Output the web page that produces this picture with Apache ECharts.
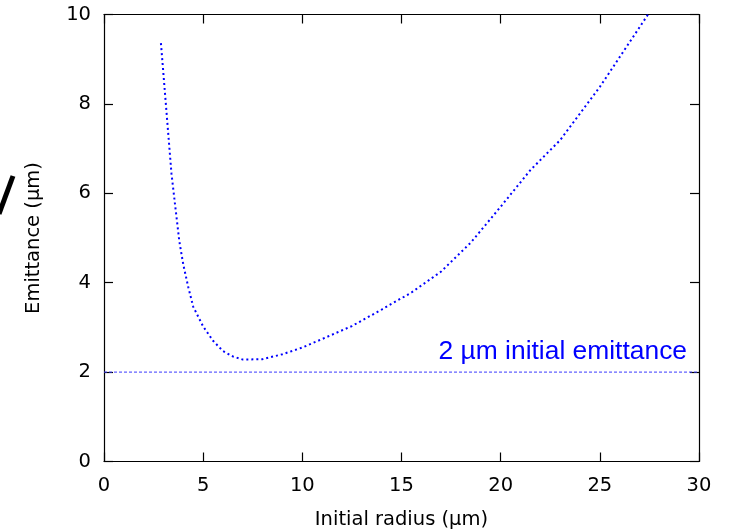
<!DOCTYPE html>
<html>
<head>
<meta charset="utf-8">
<script src="https://cdn.jsdelivr.net/npm/echarts@6/dist/echarts.min.js"></script>
<style>
  html, body { margin: 0; padding: 0; background: #fff; }
  #chart { width: 734px; height: 532px; }
</style>
</head>
<body>
<div id="chart"></div>
<script>
// Emittance growth vs. initial beam radius
const radius = [2.87, 3.0, 3.2, 3.4, 3.6, 3.8, 4.0, 4.25, 4.5, 5.0, 5.5, 6.0, 6.5, 7.0, 8.0, 9.0, 10.0, 11.0, 12.5, 14.0, 15.5, 17.0, 18.5, 20.0, 21.5, 23.0, 25.0, 27.43];
const emittance = [9.36, 8.65, 7.55, 6.45, 5.68, 4.92, 4.40, 3.90, 3.46, 3.02, 2.70, 2.47, 2.35, 2.28, 2.29, 2.40, 2.55, 2.74, 3.03, 3.40, 3.78, 4.25, 4.90, 5.70, 6.52, 7.19, 8.38, 10.0];
const initialEmittance = 2;
const xTicks = [0, 5, 10, 15, 20, 25, 30];
const yTicks = [0, 2, 4, 6, 8, 10];
const annotation = '2 µm initial emittance';

const curve = radius.map((r, i) => [r, emittance[i]]);
const refLine = [[xTicks[0], initialEmittance], [xTicks[xTicks.length - 1], initialEmittance]];

const axisFont = { fontFamily: 'DejaVu Sans', fontSize: 19.5, color: '#000' };
const lineStyle = { color: '#000', width: 1.2 };

// One frame axis per side; the top and right copies only carry ticks
function frameAxis(extra) {
  return Object.assign({
    type: 'value',
    axisLine: { show: true, onZero: false, lineStyle },
    axisTick: { show: true, inside: true, length: 9, lineStyle },
    splitLine: { show: false }
  }, extra);
}

const chart = echarts.init(document.getElementById('chart'), null, { renderer: 'canvas' });
chart.setOption({
  animation: false,
  backgroundColor: '#fff',
  grid: { left: 104, right: 35, top: 14.5, bottom: 70.5, containLabel: false, outerBoundsMode: 'none' },
  xAxis: [
    frameAxis({
      position: 'bottom', min: xTicks[0], max: xTicks[xTicks.length - 1], interval: 5,
      name: 'Initial radius (µm)', nameLocation: 'middle', nameGap: 48,
      nameTextStyle: axisFont,
      axisLabel: Object.assign({ margin: 14 }, axisFont)
    }),
    frameAxis({
      position: 'top', min: xTicks[0], max: xTicks[xTicks.length - 1], interval: 5,
      axisLabel: { show: false }
    })
  ],
  yAxis: [
    frameAxis({
      position: 'left', min: yTicks[0], max: yTicks[yTicks.length - 1], interval: 2,
      name: 'Emittance (µm)', nameLocation: 'middle', nameGap: 60, nameRotate: 90,
      nameTextStyle: axisFont,
      axisLabel: Object.assign({ margin: 13 }, axisFont)
    }),
    frameAxis({
      position: 'right', min: yTicks[0], max: yTicks[yTicks.length - 1], interval: 2,
      axisLabel: { show: false }
    })
  ],
  series: [
    {
      type: 'line', data: refLine, showSymbol: false, symbol: 'none', silent: true,
      lineStyle: { color: '#3a3aff', width: 1, type: [3, 2] }
    },
    {
      type: 'line', data: curve, showSymbol: false, symbol: 'none', silent: true, z: 3,
      lineStyle: { color: '#0000ff', width: 2, type: [2, 3], cap: 'butt' }
    }
  ],
  graphic: [
    {
      type: 'text', right: 47, top: 339,
      style: { text: annotation, fontFamily: 'Liberation Sans', fontSize: 26.4, fill: '#0000ff' }
    },
    {
      type: 'line', shape: { x1: 13, y1: 176, x2: -1, y2: 214 },
      style: { stroke: '#000', lineWidth: 5 }
    }
  ]
});
</script>
</body>
</html>
